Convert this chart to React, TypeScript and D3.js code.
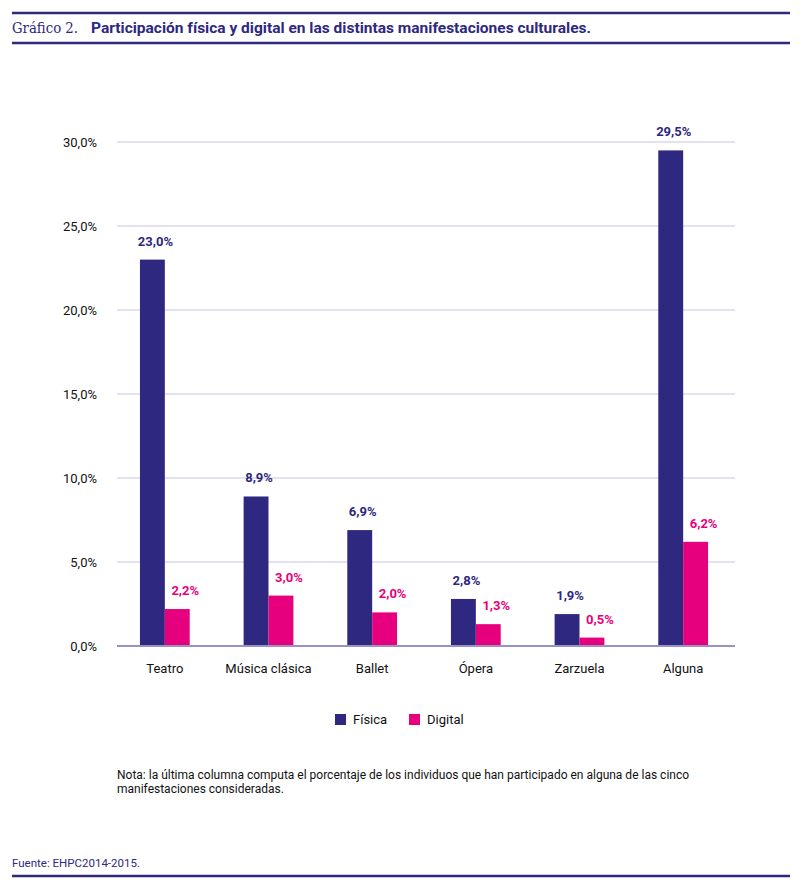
import * as d3 from 'd3'

const categories = ['Teatro', 'Música clásica', 'Ballet', 'Ópera', 'Zarzuela', 'Alguna']
const fisica = [23.0, 8.9, 6.9, 2.8, 1.9, 29.5]
const digital = [2.2, 3.0, 2.0, 1.3, 0.5, 6.2]
const series = ['Física', 'Digital']
const yTicks = [0, 5, 10, 15, 20, 25, 30]

const PURPLE = '#2e2880'
const PINK = '#e6007e'
const FONT = 'Roboto, "Liberation Sans", sans-serif'

const fmt = (v: number) => v.toFixed(1).replace('.', ',') + '%'

export default function App() {
  const width = 800
  const height = 886

  const x = d3.scaleBand<string>().domain(categories).range([113, 735]).paddingInner(0.52).paddingOuter(0.26)
  const xs = d3.scaleBand<string>().domain(series).range([0, x.bandwidth()])
  const y = d3.scaleLinear().domain([0, 30]).range([646, 142])

  const colors = [PURPLE, PINK]
  const values = [fisica, digital]

  return (
    <svg width={width} height={height} style={{ position: 'absolute', left: 0, top: 0 }}>
      <rect width={width} height={height} fill="#fff" />
      {/* header */}
      <line x1={12} x2={790} y1={13} y2={13} stroke={PURPLE} strokeWidth={2.5} />
      <text x={12} y={33} fontFamily='"DejaVu Serif", "Liberation Serif", serif' fontSize={15} fill={PURPLE} textLength={66} lengthAdjust="spacingAndGlyphs">
        Gráfico 2.
      </text>
      <text x={91} y={33} fontFamily={FONT} fontWeight="bold" fontSize={15} fill={PURPLE} textLength={500} lengthAdjust="spacingAndGlyphs">
        Participación física y digital en las distintas manifestaciones culturales.
      </text>
      <line x1={12} x2={790} y1={43} y2={43} stroke={PURPLE} strokeWidth={2.5} />

      {/* grid + y axis */}
      {yTicks.map((t) => (
        <g key={t}>
          {t > 0 && <line x1={117} x2={735} y1={y(t)} y2={y(t)} stroke="#c9c5e1" strokeWidth={1} />}
          <text x={97} y={y(t) + 5} textAnchor="end" fontFamily={FONT} fontSize={13} fill="#111">
            {fmt(t)}
          </text>
        </g>
      ))}

      {/* bars */}
      {categories.map((c, i) => (
        <g key={c} transform={`translate(${x(c)},0)`}>
          {series.map((s, j) => {
            const v = values[j][i]
            const bx = xs(s)!
            return (
              <g key={s}>
                <rect x={bx} y={y(v)} width={xs.bandwidth()} height={y(0) - y(v)} fill={colors[j]} />
                <text
                  x={bx + xs.bandwidth() / 2 + (j === 1 ? 8 : 3)}
                  y={y(v) - 14}
                  textAnchor="middle"
                  fontFamily={FONT}
                  fontWeight="bold"
                  fontSize={13}
                  fill={colors[j]}
                >
                  {fmt(v)}
                </text>
              </g>
            )
          })}
          <text x={x.bandwidth() / 2} y={673} textAnchor="middle" fontFamily={FONT} fontSize={13} fill="#111">
            {c}
          </text>
        </g>
      ))}
      <line x1={117} x2={735} y1={y(0)} y2={y(0)} stroke="#9a92c6" strokeWidth={2} />

      {/* legend */}
      {series.map((s, j) => {
        const lx = j === 0 ? 335 : 409
        return (
          <g key={s}>
            <rect x={lx} y={714} width={11} height={11} fill={colors[j]} />
            <text x={lx + 18} y={724} fontFamily={FONT} fontSize={13} fill="#111">
              {s}
            </text>
          </g>
        )
      })}

      {/* note */}
      <text fontFamily={FONT} fontSize={12} fill="#111">
        <tspan x={117} y={779}>
          Nota: la última columna computa el porcentaje de los individuos que han participado en alguna de las cinco
        </tspan>
        <tspan x={117} y={793}>
          manifestaciones consideradas.
        </tspan>
      </text>

      {/* source */}
      <text x={12} y={867} fontFamily={FONT} fontSize={11.5} fill={PURPLE}>
        Fuente: EHPC2014-2015.
      </text>
      <line x1={12} x2={790} y1={876} y2={876} stroke={PURPLE} strokeWidth={2.5} />
    </svg>
  )
}
